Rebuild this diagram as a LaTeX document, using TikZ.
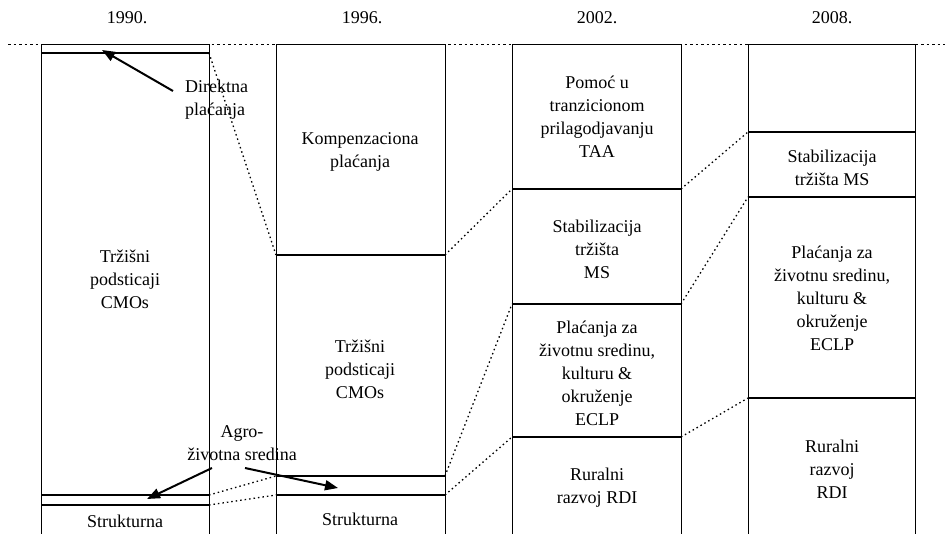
\documentclass[tikz,border=0pt]{standalone}
\usepackage{fontspec}
\setmainfont{Liberation Serif}
\usetikzlibrary{positioning}
\usetikzlibrary{arrows.meta}

\tikzset{
  lbl/.style={align=center, inner sep=0pt, font=\fontsize{18}{23}\selectfont},
  yr/.style={inner sep=0pt, font=\fontsize{18}{23}\selectfont},
  conn/.style={dash pattern=on 1.5pt off 3pt, line width=1.3pt},
  divline/.style={line width=1.2pt},
  arr/.style={-{Triangle[length=13pt,width=10pt]}, line width=2pt},
}

\begin{document}
\begin{tikzpicture}[x=1pt,y=-1pt]
\useasboundingbox (0,0) rectangle (945,534);

% top reference line
\draw[dash pattern=on 2.5pt off 3pt] (8,44) -- (945,44);

% years
\node[yr](y1) at (127,18){1990.};
\node[yr](y2) at (362,18){1996.};
\node[yr](y3) at (597,18){2002.};
\node[yr](y4) at (832,18){2008.};

% columns
\draw (41,534) -- (41,44) -- (209,44) -- (209,534);
\draw (276,534) -- (276,44) -- (445,44) -- (445,534);
\draw (512,534) -- (512,44) -- (681,44) -- (681,534);
\draw (748,534) -- (748,44) -- (915,44) -- (915,534);

% dividers
\coordinate (a1l) at (41,53);  \coordinate (a1r) at (209,53);
\coordinate (a2l) at (41,495); \coordinate (a2r) at (209,495);
\coordinate (a3l) at (41,505); \coordinate (a3r) at (209,505);
\coordinate (b1l) at (276,255); \coordinate (b1r) at (445,255);
\coordinate (b2l) at (276,476); \coordinate (b2r) at (445,476);
\coordinate (b3l) at (276,495); \coordinate (b3r) at (445,495);
\coordinate (c1l) at (512,189); \coordinate (c1r) at (681,189);
\coordinate (c2l) at (512,304); \coordinate (c2r) at (681,304);
\coordinate (c3l) at (512,437); \coordinate (c3r) at (681,437);
\coordinate (d1l) at (748,132); \coordinate (d1r) at (915,132);
\coordinate (d2l) at (748,197); \coordinate (d2r) at (915,197);
\coordinate (d3l) at (748,398); \coordinate (d3r) at (915,398);
\foreach \p in {a1,a2,a3,b1,b2,b3,c1,c2,c3,d1,d2,d3}
  \draw[divline] (\p l) -- (\p r);

% dotted links
\draw[conn] (a1r) -- (b1l);
\draw[conn] (a2r) -- (b2l);
\draw[conn] (a3r) -- (b3l);
\draw[conn] (b1r) -- (c1l);
\draw[conn] (b2r) -- (c2l);
\draw[conn] (b3r) -- (c3l);
\draw[conn] (c1r) -- (d1l);
\draw[conn] (c2r) -- (d2l);
\draw[conn] (c3r) -- (d3l);

% 1990
\node[lbl](cmo1) at (125,279){Tržišni\\podsticaji\\CMOs};
\node[lbl](str1) at (125,521){Strukturna};
% 1996
\node[lbl](komp) at (360,152){Kompenzaciona\\plaćanja};
\node[lbl](cmo2) at (360,369){Tržišni\\podsticaji\\CMOs};
\node[lbl](str2) at (360,519){Strukturna};
% 2002
\node[lbl](taa) at (597,117){Pomoć u\\tranzicionom\\prilagodjavanju\\TAA};
\node[lbl](ms3) at (597,249){Stabilizacija\\tržišta\\MS};
\node[lbl](eclp3) at (597,373){Plaćanja za\\životnu sredinu,\\kulturu \&\\okruženje\\ECLP};
\node[lbl](rdi3) at (597,488){Ruralni\\razvoj RDI};
% 2008
\node[lbl](ms4) at (832,168){Stabilizacija\\tržišta MS};
\node[lbl](eclp4) at (832,298){Plaćanja za\\životnu sredinu,\\kulturu \&\\okruženje\\ECLP};
\node[lbl](rdi4) at (832,469){Ruralni\\razvoj\\RDI};

% callouts
\node[lbl, align=left, anchor=west](dir) at (185,100){Direktna\\plaćanja};
\node[lbl](agro) at (242,443){Agro-\\životna sredina};
\coordinate (dirs) at (173,91);
\coordinate (dire) at (102,50);
\coordinate (ags1) at (212,468);
\coordinate (age1) at (147,499);
\coordinate (ags2) at (245,468);
\coordinate (age2) at (338,488);
\draw[arr] (dirs) -- (dire);
\draw[arr] (ags1) -- (age1);
\draw[arr] (ags2) -- (age2);
\end{tikzpicture}
\end{document}
